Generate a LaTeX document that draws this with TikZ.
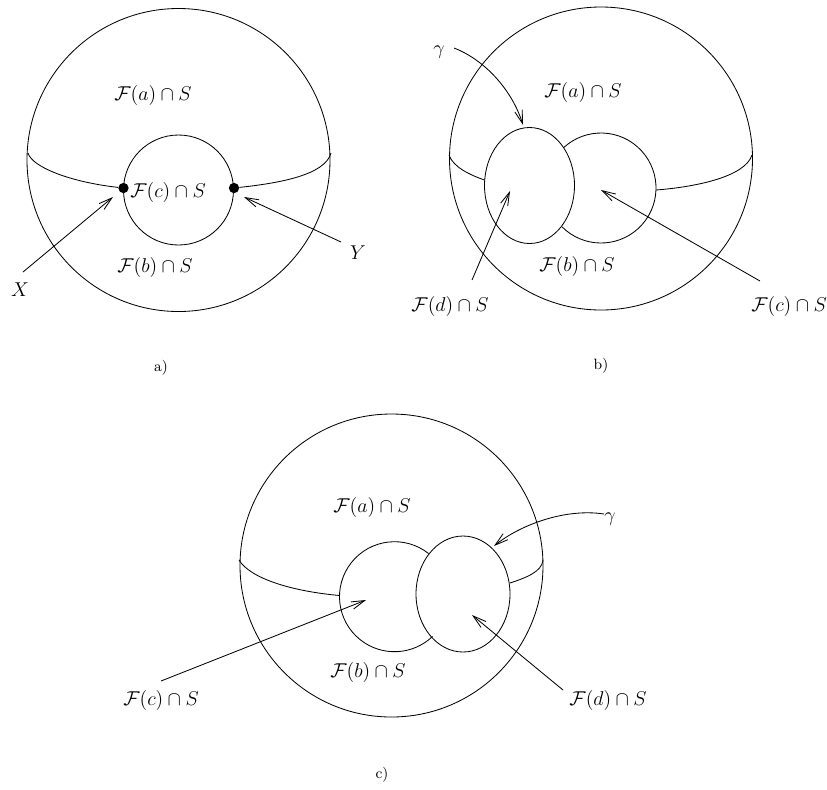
\documentclass[tikz,border=0pt]{standalone}
\usepackage{amsmath}
\usepackage{amssymb}
\usetikzlibrary{arrows.meta}

\tikzset{
    curve/.style={line width=0.5pt},
    pointer/.style={line width=0.5pt, -{Straight Barb[length=8pt,width=4.6pt]}},
    spot/.style={circle, fill=black, inner sep=0pt, minimum size=6.2pt},
    tag/.style={inner sep=0pt, font=\large},
    caption/.style={inner sep=0pt, font=\small}
}
\newcommand{\FS}[1]{$\mathcal{F}(#1)\cap S$}

\begin{document}
\begin{tikzpicture}[x=0.6pt, y=-0.6pt]
    \useasboundingbox (0,0) rectangle (827,789);

    % Panel a
    \draw[curve] (178.5,160) circle (151.5);
    \draw[curve] (178.5,190) circle (55);
    \node[spot] (xdot) at (123.5,188) {};
    \node[spot] (ydot) at (234,188) {};
    \draw[curve] (28,153) .. controls (32,167) and (70,182) .. (xdot);
    \draw[curve] (ydot) .. controls (280,183) and (325,175) .. (331,153);

    \node[tag] (afa) at (153,95) {\FS{a}};
    \node[tag] (afc) at (168,192) {\FS{c}};
    \node[tag] (afb) at (155,267) {\FS{b}};
    \node[tag] (xlab) at (20,290) {$X$};
    \node[tag] (ylab) at (358,253) {$Y$};
    \node[caption] (acap) at (161,368) {a)};

    \coordinate (xfrom) at (23,272);
    \coordinate (xto) at (113,197);
    \coordinate (yfrom) at (341,242);
    \coordinate (yto) at (244,197);
    \path[pointer] (xfrom) edge (xto);
    \path[pointer] (yfrom) edge (yto);

    % Panel b
    \draw[curve] (601,158.5) circle (151.5);
    \draw[curve] (529.5,185.5) ellipse (45 and 58);
    \draw[curve] (601,188) ++(-133:55) arc[start angle=-133, end angle=135, radius=55];
    \draw[curve] (449,155) .. controls (453,167) and (470,175) .. (484.5,180);
    \draw[curve] (656,190) .. controls (695,187) and (745,177) .. (752,155);

    \node[tag] (bfa) at (583,92) {\FS{a}};
    \node[tag] (bfb) at (577,266) {\FS{b}};
    \node[tag] (bfd) at (450,306) {\FS{d}};
    \node[tag] (bfc) at (789,306) {\FS{c}};
    \node[tag] (bgam) at (439,52) {$\gamma$};
    \node[caption] (bcap) at (601,366) {b)};

    \coordinate (bgfrom) at (454,48);
    \coordinate (bgto) at (523,125);
    \coordinate (bdfrom) at (472,280);
    \coordinate (bdto) at (510,191);
    \coordinate (bcfrom) at (760,281);
    \coordinate (bcto) at (601,190);
    \draw[pointer] (bgfrom) .. controls (485,60) and (512,90) .. (bgto);
    \path[pointer] (bdfrom) edge (bdto);
    \path[pointer] (bcfrom) edge (bcto);

    % Panel c
    \draw[curve] (391.5,565.5) circle (151.5);
    \draw[curve] (463,594) ellipse (47 and 58);
    \draw[curve] (394.5,596.7) ++(-51.7:55) arc[start angle=-51.7, end angle=-313.7, radius=55];
    \draw[curve] (239,560) .. controls (250,578) and (290,591) .. (339.5,595.5);
    \draw[curve] (510,583) .. controls (525,578) and (542,572) .. (543,560);

    \node[tag] (cfa) at (372,507) {\FS{a}};
    \node[tag] (cfb) at (368,672) {\FS{b}};
    \node[tag] (cfc) at (161,700) {\FS{c}};
    \node[tag] (cfd) at (608,700) {\FS{d}};
    \node[tag] (cgam) at (610,519) {$\gamma$};
    \node[caption] (ccap) at (382,775) {c)};

    \coordinate (cgfrom) at (604,514);
    \coordinate (cgto) at (494,546);
    \coordinate (ccfrom) at (161,681);
    \coordinate (ccto) at (366,600);
    \coordinate (cdfrom) at (563,690);
    \coordinate (cdto) at (472,615);
    \draw[pointer] (cgfrom) .. controls (565,508) and (520,525) .. (cgto);
    \path[pointer] (ccfrom) edge (ccto);
    \path[pointer] (cdfrom) edge (cdto);
\end{tikzpicture}
\end{document}
